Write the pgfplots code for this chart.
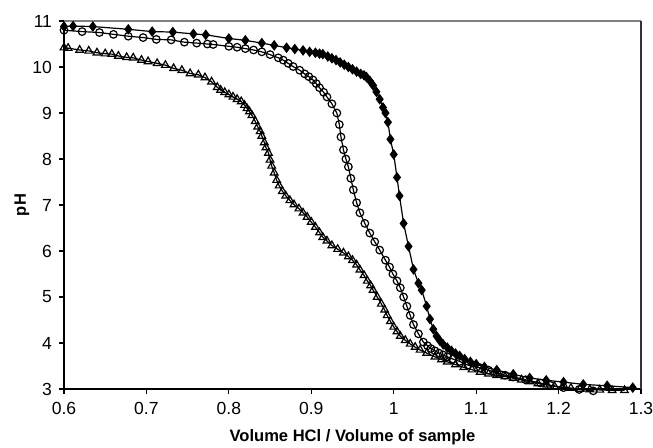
\documentclass[border=0pt]{standalone}
\usepackage{pgfplots}
\pgfplotsset{compat=1.18}
\usepackage{fontspec}
\setmainfont{Liberation Sans}

% titration curves: pH vs volume ratio
\pgfplotstableread{
x y
0.600 10.88
0.611 10.89
0.635 10.88
0.678 10.82
0.707 10.77
0.732 10.76
0.757 10.72
0.772 10.70
0.800 10.62
0.820 10.58
0.840 10.52
0.855 10.47
0.870 10.42
0.880 10.39
0.890 10.36
0.898 10.33
0.905 10.31
0.910 10.29
0.914 10.28
0.920 10.23
0.925 10.19
0.930 10.15
0.935 10.10
0.940 10.05
0.945 10.00
0.950 9.95
0.955 9.90
0.960 9.85
0.964 9.82
0.967 9.78
0.971 9.70
0.975 9.60
0.979 9.46
0.983 9.30
0.987 9.12
0.990 9.00
0.993 8.80
0.996 8.43
1.000 8.10
1.004 7.60
1.007 7.20
1.012 6.60
1.018 6.10
1.024 5.60
1.030 5.30
1.034 5.15
1.040 4.80
1.044 4.52
1.048 4.30
1.052 4.15
1.056 4.05
1.060 3.97
1.065 3.90
1.070 3.83
1.075 3.77
1.080 3.72
1.086 3.65
1.093 3.59
1.100 3.54
1.110 3.48
1.125 3.41
1.145 3.32
1.165 3.24
1.185 3.19
1.206 3.15
1.230 3.10
1.259 3.07
1.290 3.03
}\tabA

\pgfplotstableread{
x y
0.600 10.80
0.622 10.77
0.643 10.75
0.660 10.71
0.678 10.67
0.696 10.64
0.712 10.60
0.730 10.59
0.746 10.54
0.761 10.52
0.774 10.50
0.781 10.49
0.800 10.45
0.810 10.43
0.820 10.40
0.830 10.37
0.840 10.33
0.850 10.27
0.860 10.20
0.866 10.15
0.872 10.08
0.878 10.01
0.886 9.93
0.892 9.85
0.897 9.79
0.902 9.72
0.906 9.64
0.910 9.55
0.915 9.45
0.919 9.35
0.925 9.20
0.931 9.00
0.934 8.75
0.936 8.48
0.939 8.20
0.942 8.00
0.945 7.83
0.948 7.58
0.951 7.33
0.955 7.05
0.959 6.83
0.965 6.60
0.971 6.39
0.977 6.20
0.983 6.02
0.990 5.80
0.995 5.65
0.999 5.50
1.004 5.35
1.008 5.20
1.012 5.00
1.016 4.80
1.020 4.60
1.024 4.40
1.030 4.20
1.036 4.02
1.041 3.94
1.045 3.88
1.050 3.83
1.055 3.78
1.060 3.74
1.065 3.70
1.072 3.65
1.080 3.60
1.090 3.52
1.105 3.46
1.115 3.41
1.125 3.35
1.135 3.30
1.145 3.26
1.160 3.20
1.178 3.13
1.190 3.08
1.206 3.03
1.225 2.99
1.242 2.96
}\tabB

\pgfplotstableread{
x y
0.600 10.42
0.605 10.41
0.619 10.37
0.630 10.35
0.640 10.31
0.650 10.29
0.658 10.28
0.666 10.24
0.676 10.21
0.684 10.20
0.694 10.15
0.702 10.12
0.713 10.08
0.723 10.04
0.733 9.97
0.743 9.93
0.753 9.86
0.763 9.83
0.771 9.77
0.779 9.68
0.786 9.56
0.790 9.50
0.795 9.45
0.800 9.40
0.805 9.35
0.810 9.30
0.815 9.25
0.819 9.17
0.822 9.10
0.825 9.03
0.828 8.95
0.832 8.82
0.835 8.70
0.838 8.60
0.840 8.50
0.843 8.36
0.845 8.25
0.848 8.13
0.850 7.98
0.852 7.85
0.855 7.70
0.858 7.54
0.861 7.42
0.865 7.30
0.869 7.20
0.874 7.10
0.879 7.01
0.885 6.92
0.890 6.83
0.895 6.74
0.900 6.63
0.905 6.52
0.910 6.40
0.914 6.30
0.919 6.22
0.925 6.12
0.932 6.04
0.939 5.96
0.945 5.88
0.950 5.80
0.955 5.70
0.959 5.59
0.964 5.47
0.968 5.35
0.972 5.25
0.975 5.15
0.980 5.00
0.985 4.85
0.989 4.72
0.992 4.60
0.996 4.47
1.000 4.35
1.004 4.25
1.008 4.15
1.014 4.06
1.020 3.98
1.026 3.91
1.032 3.85
1.040 3.78
1.050 3.70
1.058 3.64
1.065 3.59
1.075 3.53
1.085 3.47
1.095 3.42
1.105 3.37
1.115 3.33
1.125 3.30
1.135 3.27
1.145 3.24
1.155 3.20
1.165 3.16
1.175 3.12
1.186 3.09
1.195 3.06
1.205 3.04
1.215 3.02
1.226 3.00
1.238 2.99
1.250 2.98
1.265 2.97
1.280 2.97
}\tabC

\begin{document}
\begin{tikzpicture}
\useasboundingbox (-32bp,-29.5bp) rectangle (294.5bp,194.5bp);
\begin{axis}[
    scale only axis, width=288.5bp, height=184bp,
    xmin=0.6, xmax=1.3, ymin=3, ymax=11,
    xtick={0.6,0.7,...,1.3}, ytick={3,4,...,11},
    xticklabels={0.6,0.7,0.8,0.9,1,1.1,1.2,1.3},
    axis x line*=bottom, axis y line*=left,
    axis line style={-, black, line width=0.75bp},
    tick align=outside, major tick length=2.5bp,
    tick style={black, line width=0.6bp},
    ticklabel style={font=\fontsize{8.8}{10}\selectfont},
    xticklabel style={yshift=-0.5bp},
    /pgf/number format/assume math mode=true,
    xlabel={\textbf{Volume HCl / Volume of sample}},
    ylabel={\textbf{pH}},
    label style={font=\fontsize{8.3}{10}\selectfont},
    xlabel style={at={(axis description cs:0.5,-0.13)}, anchor=center},
    ylabel style={at={(axis description cs:-0.073,0.5)}, anchor=center, rotate=0},
    clip=false,
    every axis plot/.append style={black, line width=0.6bp},
  ]
  \draw[gray, line width=0.75bp] (rel axis cs:0,1) -- (rel axis cs:1,1);
  \draw[black!80, line width=0.6bp] (rel axis cs:1,0) -- (rel axis cs:1,1);
  \addplot[mark=triangle, mark size=2.2bp, mark options={fill=white, line width=0.6bp}] table {\tabC};
  \addplot[mark=o, mark size=1.9bp, mark options={fill=white, line width=0.6bp}] table {\tabB};
  \addplot[mark=diamond*, mark size=2.2bp, mark options={fill=black}] table {\tabA};
\end{axis}
\end{tikzpicture}
\end{document}
